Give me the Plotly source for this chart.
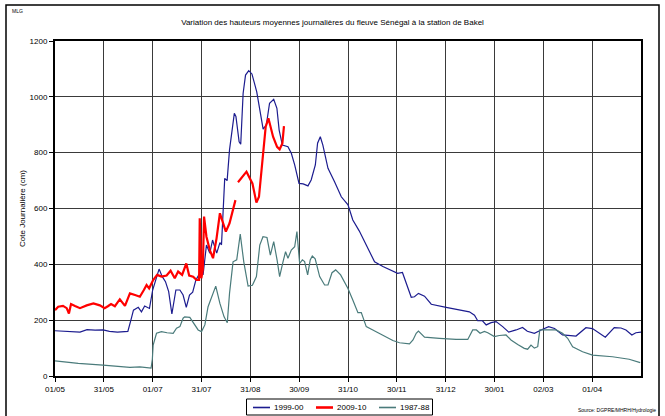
"""Daily mean river stage of the Senegal at Bakel, three hydrological years."""

from __future__ import annotations

import plotly.graph_objects as go

# day index counted from 01/05
TICK_DAYS = [0, 30.5, 61, 91.5, 122, 152.5, 183, 213.5, 244, 274.5, 305, 335.5]
TICK_LABELS = [
    "01/05", "31/05", "01/07", "31/07", "31/08", "30/09",
    "31/10", "30/11", "31/12", "30/01", "02/03", "01/04",
]

DAYS_1999 = [
    0, 7.5, 15.6, 20, 25, 30, 34, 39, 42, 45.5, 47.4, 49, 52, 54, 56, 59,
    61, 63, 65, 67, 69, 71, 72, 73, 75.5, 78, 80, 82, 84, 86, 88, 90, 92.5,
    94.6, 96.7, 98.4, 101, 103, 104, 105, 106, 107.5, 109, 112, 113, 115,
    116, 117.5, 119, 121, 123, 126, 128, 130, 132, 134, 136.6, 138.6, 140,
    142, 145.5, 147.6, 149.7, 152.4, 155, 158, 160, 162.6, 164, 165.7,
    167.3, 170.5, 174.6, 178.8, 183, 186, 190, 194.4, 199.6, 204.8, 211,
    214, 217, 219.4, 222.5, 224.5, 227, 230.8, 235, 244.3, 252.6, 258.8,
    262, 264, 267, 269.3, 272.4, 275.5, 279.6, 283.4, 288, 292, 295,
    299.4, 303.6, 308.3, 312, 317, 325.4, 331.6, 335.7, 340, 343.7, 349.3,
    353.5, 356.6, 360.3, 362.8, 366,
]
COTE_1999 = [
    162, 160, 157, 166, 164, 165, 160, 157, 158, 160, 200, 236, 246, 230,
    251, 242, 308, 350, 383, 356, 338, 302, 260, 222, 308, 308, 290, 246,
    290, 300, 344, 364, 364, 469, 440, 487, 440, 478, 470, 600, 708, 700,
    810, 941, 930, 839, 830, 1013, 1078, 1094, 1082, 1018, 947, 884, 900,
    977, 991, 959, 881, 827, 821, 798, 756, 690, 688, 681, 702, 756, 834,
    857, 827, 744, 696, 642, 613, 559, 520, 469, 409, 392, 374, 368, 371,
    332, 282, 284, 296, 286, 257, 246, 236, 230, 218, 198, 198, 183, 191,
    195, 177, 157, 165, 174, 160, 153, 165, 177, 170, 147, 143, 173, 170,
    153, 139, 173, 172, 165, 147, 155, 157,
]

DAYS_2009 = [
    0, 2, 5, 7.3, 8.7, 10, 12.5, 15.6, 19.8, 24, 28, 31, 33, 35, 37.4,
    40.5, 43.7, 46.8, 50, 53, 55.5, 57.2, 58.8, 61.3, 63.8, 66.5, 69.7,
    72.2, 74.8, 76.9, 79.4, 82, 83.8, 86.3, 88.4, 90, 90.4, 91.4, 92.3,
    93.1, 94.6, 96.7, 98.7, 100.9, 103, 105, 106.7, 109, 111.2, 112.7,
    113.5, 114.3, 119.6, 123.3, 125.8, 127.4, 129.9, 131.6, 133.3, 134.5,
    136.2, 138.7, 140.3, 142, 143,
]
COTE_2009 = [
    236, 248, 251, 243, 224, 258, 251, 243, 253, 260, 253, 243, 250, 258,
    250, 275, 251, 296, 290, 284, 308, 326, 314, 344, 362, 356, 360, 377,
    350, 374, 362, 403, 360, 356, 344, 344, 565, 350, 380, 571, 499, 451,
    422, 493, 583, 547, 517, 547, 595, 630, None, 694, 732, 690, 621, 642,
    810, 893, 923, 893, 857, 821, 812, 833, 895,
]

DAYS_1987 = [
    0, 14.5, 30, 46.8, 53, 60, 60.8, 61.3, 63.4, 66.5, 70, 73.8, 75.9, 78,
    80, 81, 84.2, 86.3, 89.4, 91.5, 93.6, 95.6, 97.7, 100.4, 103, 105.6,
    107.6, 109, 111.2, 113.5, 115.7, 117.9, 120.6, 123.3, 125.8, 127.9,
    129.9, 132.4, 134.5, 136.6, 138.7, 140.3, 142.4, 144, 145.5, 147.6,
    149.7, 151.1, 152.8, 154.5, 155.9, 157.8, 159.4, 160.7, 162.5, 165.3,
    168.4, 170.5, 173, 175.3, 178.4, 182.9, 186, 189.2, 191.3, 194.4,
    198.5, 202.7, 206.9, 211, 215.2, 221.4, 223.6, 225.6, 227, 230.8,
    240.1, 250.5, 257.8, 260.9, 263.2, 265.5, 268.2, 270.3, 274.4, 277.5,
    281.7, 284.8, 289, 293.1, 295.2, 297.3, 299.4, 301.5, 302.8, 306.7,
    312.9, 317, 320.2, 323.3, 329.5, 335.7, 348.2, 358.6, 365.5,
]
COTE_1987 = [
    54, 45, 39, 31, 33, 28, 60, 111, 153, 159, 155, 153, 171, 177, 207,
    212, 210, 190, 165, 159, 183, 248, 278, 322, 260, 212, 191, 296, 409,
    416, 508, 409, 322, 325, 356, 469, 499, 496, 433, 481, 416, 356, 409,
    445, 422, 451, 463, 517, 403, 416, 410, 362, 416, 430, 420, 356, 326,
    326, 370, 380, 362, 314, 272, 227, 227, 177, 165, 153, 141, 127, 119,
    115, 129, 153, 161, 139, 135, 131, 131, 165, 165, 153, 160, 155, 141,
    145, 147, 129, 113, 99, 96, 111, 100, 105, 165, 165, 165, 153, 135,
    105, 87, 75, 69, 60, 48,
]

FONT = "Liberation Sans, Arial, sans-serif"
GRID = "#3a3a3a"

# plot area in page pixels (left, top, width, height)
PLOT_L, PLOT_T, PLOT_W, PLOT_H = 55, 41, 586, 335


def px_to_paper(px: float, py: float) -> tuple[float, float]:
    """Page pixel position -> paper coordinates of the plot area."""
    return (px - PLOT_L) / PLOT_W, (PLOT_T + PLOT_H - py) / PLOT_H


def stage_trace(days: list[float], cote: list, name: str, color: str, width: float) -> go.Scatter:
    """One season as a plain line."""
    return go.Scatter(
        x=days,
        y=cote,
        name=name,
        mode="lines",
        line=dict(color=color, width=width),
        connectgaps=False,
        showlegend=False,
        hovertemplate="%{y:.0f} cm<extra>" + name + "</extra>",
    )


SERIES = [
    (DAYS_1999, COTE_1999, "1999-00", "#1c1c8f", 1.2),
    (DAYS_2009, COTE_2009, "2009-10", "#ff0000", 2.2),
    (DAYS_1987, COTE_1987, "1987-88", "#4a7b7b", 1.2),
]

fig = go.Figure()
for days, cote, name, color, width in SERIES:
    fig.add_trace(stage_trace(days, cote, name, color, width))

fig.update_layout(
    width=665,
    height=416,
    margin=dict(l=PLOT_L, r=665 - PLOT_L - PLOT_W, t=PLOT_T, b=416 - PLOT_T - PLOT_H, autoexpand=False),
    paper_bgcolor="white",
    plot_bgcolor="white",
    font=dict(family=FONT, size=8, color="black"),
    title=dict(
        text="Variation des hauteurs moyennes journalières du fleuve Sénégal à la station de Bakel",
        x=0.5,
        xanchor="center",
        y=1 - 22 / 416,
        yanchor="middle",
        font=dict(size=8),
    ),
    showlegend=False,
)
fig.update_xaxes(
    range=[0, 366],
    tickvals=TICK_DAYS,
    ticktext=TICK_LABELS,
    showgrid=True,
    gridcolor=GRID,
    gridwidth=1,
    showline=True,
    linecolor="black",
    linewidth=2,
    mirror=True,
    ticks="outside",
    ticklen=4,
    tickcolor="black",
    zeroline=False,
    automargin=False,
    tickfont=dict(size=8),
)
fig.update_yaxes(
    range=[0, 1200],
    dtick=200,
    showgrid=True,
    gridcolor=GRID,
    gridwidth=1,
    showline=True,
    linecolor="black",
    linewidth=2,
    mirror=True,
    ticks="outside",
    ticklen=4,
    tickcolor="black",
    zeroline=False,
    automargin=False,
    tickfont=dict(size=8),
    title=dict(text="Cote Journalière (cm)", font=dict(size=8), standoff=3),
)

# outer chart frame, as in the spreadsheet export
x0, y1 = px_to_paper(6, 5)
x1, y0 = px_to_paper(659, 420)
fig.add_shape(
    type="rect", xref="paper", yref="paper", x0=x0, x1=x1, y0=y0, y1=y1,
    line=dict(color="black", width=1.5), layer="below",
)

# spreadsheet-style legend box under the axis
lx0, ly1 = px_to_paper(246.5, 399)
lx1, ly0 = px_to_paper(432.5, 415)
fig.add_shape(
    type="rect", xref="paper", yref="paper", x0=lx0, x1=lx1, y0=ly0, y1=ly1,
    line=dict(color="black", width=1), fillcolor="white",
)
for (_, _, name, color, width), left in zip(SERIES, [253, 316, 379]):
    sx0, sy = px_to_paper(left, 407.5)
    sx1, _ = px_to_paper(left + 17, 407.5)
    fig.add_shape(
        type="line", xref="paper", yref="paper", x0=sx0, x1=sx1, y0=sy, y1=sy,
        line=dict(color=color, width=width + 0.4),
    )
    tx, _ = px_to_paper(left + 19, 407.5)
    fig.add_annotation(
        text=name, xref="paper", yref="paper", x=tx, y=sy,
        xanchor="left", yanchor="middle", showarrow=False, font=dict(size=8),
    )

mx, my = px_to_paper(10, 11)
fig.add_annotation(
    text="MLG", xref="paper", yref="paper", x=mx, y=my,
    xanchor="left", yanchor="middle", showarrow=False, font=dict(size=5),
)
sx, sy = px_to_paper(658, 410)
fig.add_annotation(
    text="Source: DGPRE/MHRH/Hydrologie", xref="paper", yref="paper",
    x=sx, y=sy, xanchor="right", yanchor="middle",
    showarrow=False, font=dict(size=5),
)

# the page's default body margin would shift the chart by 8 px
fig.write_html(
    "out.html",
    config={"displayModeBar": False},
    post_script="document.body.style.margin='0';document.body.style.overflow='hidden';",
)
